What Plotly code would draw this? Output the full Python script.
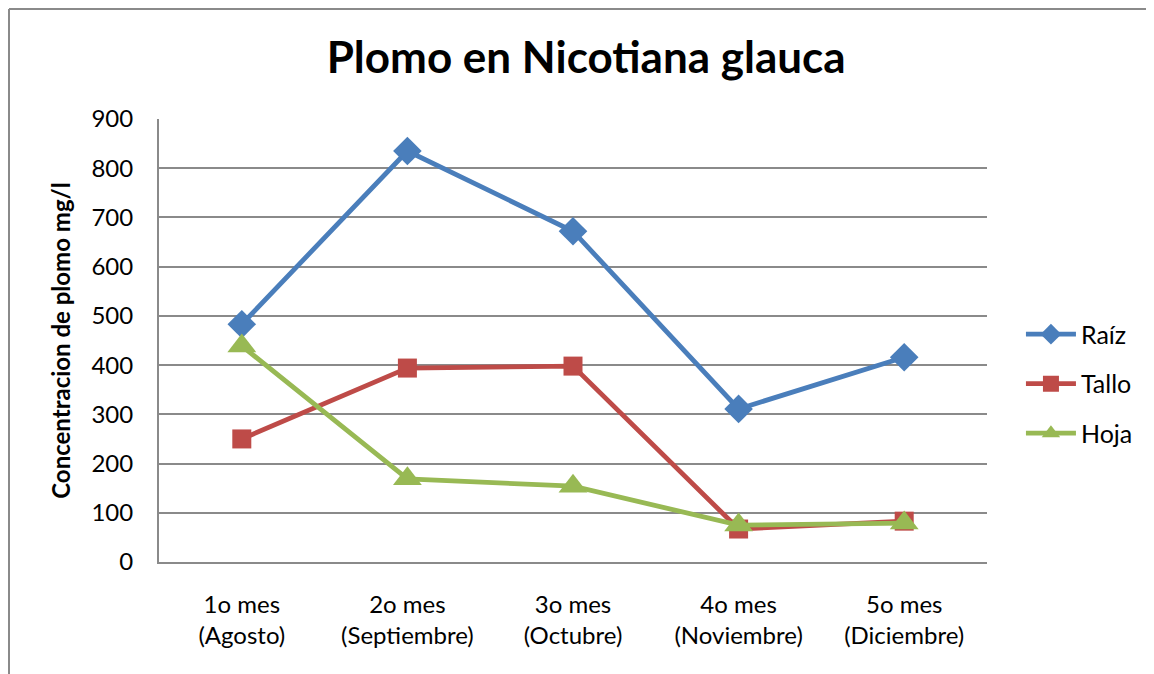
import plotly.graph_objects as go

categories = ["1o mes<br>(Agosto)", "2o mes<br>(Septiembre)", "3o mes<br>(Octubre)",
              "4o mes<br>(Noviembre)", "5o mes<br>(Diciembre)"]
raiz = [483, 835, 672, 311, 416]
tallo = [250, 394, 398, 67, 83]
hoja = [439, 169, 154, 75, 79]

series = [
    ("Raíz", raiz, "#4A7EBB", "diamond", 22),
    ("Tallo", tallo, "#BE4B48", "square", 19),
    ("Hoja", hoja, "#98B954", "triangle-up", 25),
]

W, H = 1154, 674
ml, mr, mt, mb = 151, 175, 111, 120
FONT = "Lato"

fig = go.Figure()
for name, vals, color, sym, size in series:
    fig.add_trace(go.Scatter(
        x=categories, y=vals, name=name, mode="lines+markers", legendgroup=name,
        line=dict(color=color, width=4.8),
        marker=dict(symbol=sym, size=size, color=color),
    ))

pw = W - ml - mr
ph = H - mt - mb
# chart frame (top and left edges)
fy = 1 + (mt - 1) / ph
fx = (1 - ml) / pw
fig.add_shape(type="line", xref="paper", yref="paper",
              x0=fx, x1=(W - ml) / pw, y0=fy, y1=fy,
              line=dict(color="#8A8A8A", width=2))
fig.add_shape(type="line", xref="paper", yref="paper",
              x0=fx, x1=fx, y0=-mb / ph, y1=fy,
              line=dict(color="#8A8A8A", width=2))

fig.update_layout(
    width=W, height=H,
    margin=dict(l=ml, r=mr, t=mt, b=mb),
    paper_bgcolor="white", plot_bgcolor="white",
    font=dict(family=FONT, size=24, color="black"),
    title=dict(text="<b>Plomo en Nicotiana glauca</b>", x=0.501, xanchor="center",
               y=1 - 50 / H, yanchor="middle", font=dict(size=44, family=FONT)),
    showlegend=True,
    legend=dict(x=1.041, y=0.402, xanchor="left", yanchor="middle",
                font=dict(size=25, family=FONT), itemwidth=50, tracegroupgap=14,
                bgcolor="rgba(0,0,0,0)"),
    xaxis=dict(showgrid=False, showline=True, linecolor="#8A8A8A", linewidth=2,
               ticks="", ticklabelstandoff=20, range=[-0.5, 4.5],
               tickfont=dict(size=24, family=FONT)),
    yaxis=dict(range=[0, 900], dtick=100, showgrid=True, gridcolor="#8A8A8A", gridwidth=2,
               showline=True, linecolor="#8A8A8A", linewidth=2, ticks="",
               zeroline=False, ticklabelstandoff=19,
               tickfont=dict(size=24, family=FONT),
               title=dict(text="<b>Concentracion de plomo mg/l</b>", standoff=14,
                          font=dict(size=24, family=FONT))),
)

fig.write_html("out.html")
